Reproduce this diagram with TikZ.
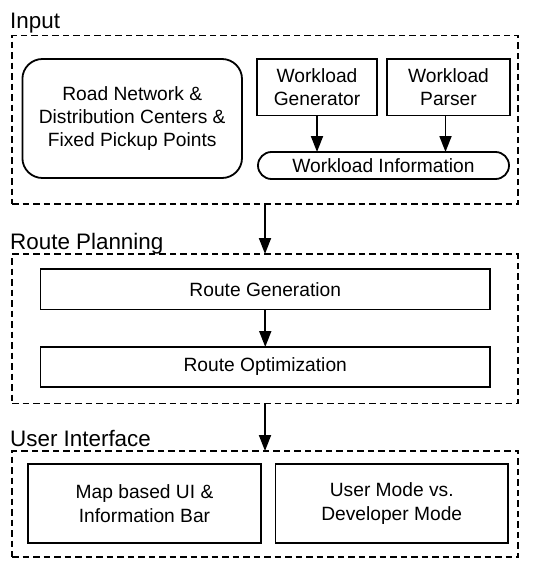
\documentclass[tikz,border=0pt]{standalone}
\usepackage{fontspec}
\setmainfont{Liberation Sans}
\usetikzlibrary{arrows.meta}

\begin{document}
\begin{tikzpicture}[x=1pt,y=-1pt,
    box/.style={draw,line width=1.8pt,inner sep=0pt,outer sep=0pt,align=center,
      font=\fontsize{19.2}{23.3}\selectfont},
    group/.style={draw,dash pattern=on 6.5pt off 4pt,line width=1.5pt,inner sep=0pt,outer sep=0pt},
    title/.style={anchor=base west,inner sep=0pt,font=\fontsize{22.4}{27}\selectfont},
    flow/.style={-{Triangle[length=16pt,width=12pt]},line width=1.8pt}]
  \useasboundingbox (0,0) rectangle (533,573);
  % three stages
  \node[group,minimum width=506pt,minimum height=168.5pt] (input) at (265,119.75) {};
  \node[group,minimum width=506pt,minimum height=149.5pt] (plan) at (265,328.75) {};
  \node[group,minimum width=506pt,minimum height=106pt] (ui) at (265,504) {};
  \node[title] (inputlabel) at (10,28.3) {Input};
  \node[title] (planlabel) at (10,249.3) {Route Planning};
  \node[title] (uilabel) at (10,446.7) {User Interface};
  % input
  \node[box,rounded corners=20pt,minimum width=219.6pt,minimum height=119pt] (road) at (132.2,118.5)
    {Road Network \&\\Distribution Centers \&\\Fixed Pickup Points};
  \node[box,minimum width=120pt,minimum height=56.5pt] (gen) at (317,87.25) {Workload\\Generator};
  \node[box,minimum width=123pt,minimum height=56.5pt] (parser) at (448.5,87.25) {Workload\\Parser};
  \node[box,rounded corners=13.5pt,minimum width=251pt,minimum height=27pt] (info) at (383.5,165.5)
    {Workload Information};
  % route planning
  \node[box,minimum width=449.5pt,minimum height=40.5pt] (routegen) at (265.25,289.25) {Route Generation};
  \node[box,minimum width=449.5pt,minimum height=40pt] (routeopt) at (265.25,367) {Route Optimization};
  % user interface
  \node[box,minimum width=233pt,minimum height=79pt] (map) at (144.5,503.5) {Map based UI \&\\Information Bar};
  \node[box,minimum width=232.5pt,minimum height=79pt] (mode) at (391.75,503.5) {User Mode vs.\\Developer Mode};
  \begin{scope}[flow]
    \draw (gen.south) -- (gen.south |- info.north);
    \draw ([xshift=-3pt]parser.south) -- ([xshift=-3pt]parser.south |- info.north);
    \draw (input.south) -- (plan.north);
    \draw (routegen.south) -- (routeopt.north);
    \draw (plan.south) -- (ui.north);
  \end{scope}
\end{tikzpicture}
\end{document}
